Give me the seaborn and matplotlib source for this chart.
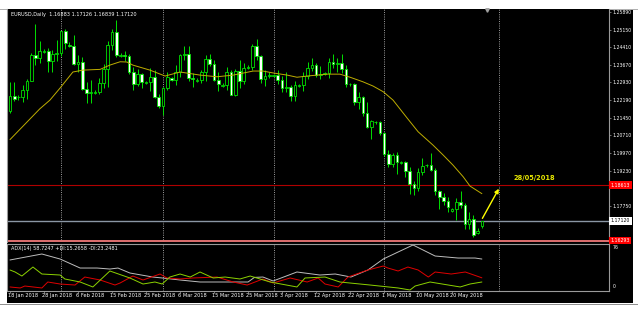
import numpy as np
import pandas as pd
import matplotlib
matplotlib.use("Agg")
import matplotlib.pyplot as plt
from matplotlib.patches import Rectangle
import seaborn as sns

sns.set_style("dark")
plt.rcParams['font.family'] = ['DejaVu Sans']

# ---------------- DATA ----------------
# bar index 0 = 18 Jan 2018 (broker with Sunday bars), last = 28 May 2018
opens = [1.2175, 1.2236, 1.2230, 1.2232, 1.2262, 1.2300, 1.2408, 1.2397, 1.2422, 1.2425,
         1.2383, 1.2412, 1.2416, 1.2509, 1.2452, 1.2446, 1.2369, 1.2381, 1.2265, 1.2250,
         1.2248, 1.2252, 1.2290, 1.2350, 1.2451, 1.2506, 1.2405, 1.2410, 1.2406, 1.2338,
         1.2285, 1.2329, 1.2290, 1.2294, 1.2318, 1.2233, 1.2193, 1.2268, 1.2310, 1.2302,
         1.2336, 1.2409, 1.2411, 1.2312, 1.2300, 1.2305, 1.2335, 1.2390, 1.2370, 1.2304,
         1.2280, 1.2284, 1.2336, 1.2240, 1.2343, 1.2301, 1.2355, 1.2360, 1.2447, 1.2403,
         1.2308, 1.2322, 1.2320, 1.2325, 1.2302, 1.2269, 1.2276, 1.2238, 1.2278, 1.2281,
         1.2320, 1.2353, 1.2367, 1.2325, 1.2328, 1.2332, 1.2381, 1.2372, 1.2374, 1.2349,
         1.2285, 1.2286, 1.2212, 1.2234, 1.2164, 1.2105, 1.2125, 1.2128, 1.2079, 1.1992,
         1.1949, 1.1989, 1.1955, 1.1958, 1.1922, 1.1867, 1.1850, 1.1917, 1.1945, 1.1948,
         1.1925, 1.1837, 1.1810, 1.1795, 1.1755, 1.1760, 1.1789, 1.1780, 1.1698, 1.1720,
         1.1660, 1.16883]
highs = [1.2296, 1.2297, 1.2240, 1.2283, 1.2307, 1.2415, 1.2537, 1.2466, 1.2432, 1.2438,
         1.2430, 1.2470, 1.2510, 1.2518, 1.2462, 1.2492, 1.2410, 1.2398, 1.2294, 1.2302,
         1.2260, 1.2312, 1.2371, 1.2469, 1.2519, 1.2555, 1.2416, 1.2426, 1.2412, 1.2358,
         1.2350, 1.2334, 1.2300, 1.2355, 1.2345, 1.2243, 1.2273, 1.2336, 1.2318, 1.2365,
         1.2414, 1.2446, 1.2445, 1.2334, 1.2310, 1.2347, 1.2409, 1.2413, 1.2387, 1.2336,
         1.2290, 1.2357, 1.2345, 1.2350, 1.2388, 1.2374, 1.2365, 1.2456, 1.2476, 1.2408,
         1.2345, 1.2336, 1.2330, 1.2345, 1.2322, 1.2339, 1.2283, 1.2298, 1.2286, 1.2337,
         1.2380, 1.2396, 1.2374, 1.2363, 1.2335, 1.2396, 1.2414, 1.2396, 1.2414, 1.2366,
         1.2292, 1.2290, 1.2254, 1.2238, 1.2209, 1.2135, 1.2132, 1.2133, 1.2083, 1.2009,
         1.1996, 1.1999, 1.1965, 1.1963, 1.1940, 1.1881, 1.1933, 1.1974, 1.1952, 1.1997,
         1.1932, 1.1843, 1.1830, 1.1812, 1.1765, 1.1806, 1.1836, 1.1785, 1.1748, 1.1738,
         1.1680, 1.17126]
lows = [1.2166, 1.2215, 1.2220, 1.2212, 1.2225, 1.2298, 1.2367, 1.2373, 1.2415, 1.2336,
        1.2337, 1.2384, 1.2406, 1.2435, 1.2440, 1.2365, 1.2336, 1.2262, 1.2207, 1.2206,
        1.2244, 1.2244, 1.2270, 1.2273, 1.2430, 1.2400, 1.2400, 1.2383, 1.2329, 1.2260,
        1.2278, 1.2268, 1.2285, 1.2258, 1.2226, 1.2187, 1.2155, 1.2262, 1.2298, 1.2282,
        1.2318, 1.2387, 1.2301, 1.2272, 1.2295, 1.2290, 1.2299, 1.2363, 1.2300, 1.2258,
        1.2275, 1.2260, 1.2240, 1.2238, 1.2269, 1.2286, 1.2350, 1.2347, 1.2386, 1.2292,
        1.2280, 1.2312, 1.2315, 1.2288, 1.2254, 1.2251, 1.2214, 1.2215, 1.2274, 1.2259,
        1.2307, 1.2340, 1.2314, 1.2306, 1.2325, 1.2310, 1.2354, 1.2338, 1.2332, 1.2273,
        1.2280, 1.2197, 1.2182, 1.2154, 1.2103, 1.2055, 1.2120, 1.2072, 1.1985, 1.1937,
        1.1939, 1.1910, 1.1950, 1.1896, 1.1823, 1.1820, 1.1838, 1.1904, 1.1940, 1.1922,
        1.1820, 1.1762, 1.1780, 1.1750, 1.1750, 1.1717, 1.1767, 1.1676, 1.1678, 1.1645,
        1.1655, 1.16839]
closes = [1.2236, 1.2222, 1.2232, 1.2262, 1.2300, 1.2408, 1.2397, 1.2427, 1.2425, 1.2383,
          1.2412, 1.2416, 1.2509, 1.2459, 1.2446, 1.2369, 1.2381, 1.2265, 1.2250, 1.2253,
          1.2252, 1.2290, 1.2350, 1.2451, 1.2506, 1.2407, 1.2410, 1.2406, 1.2338, 1.2285,
          1.2329, 1.2295, 1.2294, 1.2318, 1.2233, 1.2193, 1.2268, 1.2317, 1.2302, 1.2336,
          1.2409, 1.2411, 1.2312, 1.2306, 1.2305, 1.2335, 1.2390, 1.2370, 1.2304, 1.2286,
          1.2284, 1.2336, 1.2240, 1.2343, 1.2301, 1.2352, 1.2360, 1.2447, 1.2403, 1.2308,
          1.2322, 1.2322, 1.2325, 1.2302, 1.2269, 1.2276, 1.2238, 1.2282, 1.2281, 1.2320,
          1.2353, 1.2367, 1.2325, 1.2330, 1.2332, 1.2381, 1.2372, 1.2374, 1.2349, 1.2288,
          1.2286, 1.2212, 1.2234, 1.2164, 1.2105, 1.2132, 1.2128, 1.2079, 1.1992, 1.1949,
          1.1989, 1.1960, 1.1958, 1.1922, 1.1867, 1.1850, 1.1917, 1.1942, 1.1948, 1.1925,
          1.1837, 1.1810, 1.1795, 1.1768, 1.1760, 1.1789, 1.1780, 1.1698, 1.1720, 1.1651,
          1.1668, 1.17120]

# moving average (read at bar positions)
ma_idx = [0, 7, 9.4, 11.8, 14.8, 17.2, 21.2, 23.5, 25.9, 27.5, 28.9, 32.9, 36.5, 40, 44.7,
          48.7, 52.5, 57.2, 59.5, 61.9, 65.2, 67.5, 69.9, 74.6, 77.6, 80, 83, 85.4, 87.8,
          90.1, 93.4, 96, 99.5, 101.9, 104.2, 106.6, 108.2, 111]
ma_val = [1.2053, 1.2182, 1.2219, 1.2270, 1.2337, 1.2345, 1.2348, 1.2366, 1.2380, 1.2379,
          1.2366, 1.2345, 1.2320, 1.2337, 1.2324, 1.2317, 1.2324, 1.2341, 1.2341, 1.2333,
          1.2324, 1.2315, 1.2320, 1.2328, 1.2328, 1.2315, 1.2296, 1.2278, 1.2254, 1.2219,
          1.2144, 1.2086, 1.2030, 1.1988, 1.1946, 1.1897, 1.1858, 1.1826]

# ADX(14) panel
adx_idx = [0, 7.5, 11.8, 16.5, 20.5, 23.5, 25.4, 28.2, 33.6, 35.8, 40, 44.7, 52.5, 56,
           57.5, 59.5, 61.9, 67.5, 72.9, 76.5, 80.2, 84.2, 87.8, 91.3, 94.8, 100, 105.4,
           109.4, 111]
adx_val = [56.9, 68.2, 58.7, 41.7, 41.7, 39.8, 41.7, 32.3, 24.7, 22.9, 19.1, 15.3, 15.3,
           15.3, 24.0, 24.7, 17.2, 34.2, 28.5, 30.4, 24.7, 38.0, 58.7, 72.0, 85.2, 64.4,
           60.6, 60.6, 58.7]
mdi_idx = [0, 2.4, 3.5, 7.5, 8.9, 11.8, 15.3, 17.6, 21.2, 24.7, 25.9, 28.9, 31.3, 35.3,
           36.9, 40, 43, 48.7, 52.5, 55.8, 59.5, 61.9, 65.9, 69.9, 72.5, 74.1, 77.2, 79.5,
           84.2, 87.8, 88.9, 91.3, 93.6, 96, 98.4, 100, 103.8, 107.1, 111]
mdi_val = [5.9, 4.0, 7.7, 4.0, 15.3, 11.5, 9.6, 24.7, 19.1, 9.6, 13.4, 26.6, 19.1, 30.4,
           22.9, 21.0, 22.9, 24.7, 15.3, 9.6, 21.0, 13.4, 22.9, 15.3, 22.9, 11.5, 5.9, 24.7,
           38.0, 45.5, 41.7, 36.1, 43.6, 38.0, 24.7, 34.2, 30.4, 34.2, 23.2]
pdi_idx = [0, 1.2, 2.8, 5.4, 7.5, 11.8, 12.9, 16.5, 19.5, 23.5, 28.2, 31.3, 34.1, 35.8,
           37.6, 40, 42.4, 44.7, 47.8, 50.6, 54.1, 56.5, 61.2, 67.5, 69.4, 74.1, 77.6, 84.7,
           91.3, 94.1, 95.3, 98.8, 105.9, 108.2, 111]
pdi_val = [38.0, 34.2, 26.6, 43.6, 30.4, 28.5, 21.0, 15.3, 5.9, 36.1, 22.9, 11.5, 15.3,
           11.5, 24.7, 30.4, 24.7, 34.2, 22.9, 24.7, 21.0, 26.6, 15.3, 5.9, 22.9, 24.7, 15.3,
           9.6, 4.0, 0.2, 7.7, 15.3, 5.9, 11.5, 15.3]

date_labels = ['18 Jan 2018', '28 Jan 2018', '6 Feb 2018', '15 Feb 2018', '25 Feb 2018',
               '6 Mar 2018', '15 Mar 2018', '25 Mar 2018', '3 Apr 2018', '12 Apr 2018',
               '22 Apr 2018', '1 May 2018', '10 May 2018', '20 May 2018']
date_pos = [0, 8, 16, 24, 32, 40, 48, 56, 64, 72, 80, 88, 96, 104]
month_starts = [12, 36, 62, 88, 115]
price_ticks = [1.25890, 1.25150, 1.24410, 1.23670, 1.22930, 1.22190, 1.21450, 1.20710,
               1.19970, 1.19230, 1.18490, 1.17750, 1.17010]
hidden_ticks = [1.18490, 1.17010]   # labels covered by the price boxes
red_level = 1.18613
bid_level = 1.17120
low_level = 1.16293
title_txt = "EURUSD,Daily  1.16883 1.17126 1.16839 1.17120"
adx_txt = "ADX(14) 58.7247 +DI:15.2658 -DI:23.2481"
note_txt = "28/05/2018"

# ---------------- FIGURE ----------------
W, H = 638, 312
fig = plt.figure(figsize=(W / 100, H / 100), dpi=100, facecolor='white')
fig.patches.append(Rectangle((7 / W, 1 - 303 / H), (633 - 7) / W, (303 - 9) / H,
                             transform=fig.transFigure, facecolor='black',
                             edgecolor='none', zorder=-10))
fig.patches.append(Rectangle((0, 1 - 9.5 / H), 1, 0.8 / H, transform=fig.transFigure,
                             facecolor='#B0B0B0', edgecolor='none', zorder=-9))
fig.patches.append(Rectangle((0, 1 - 304.5 / H), 1, 0.8 / H, transform=fig.transFigure,
                             facecolor='#909090', edgecolor='none', zorder=-9))

ax1 = fig.add_axes([7 / W, 1 - 242 / H, (609 - 7) / W, (242 - 9) / H], facecolor='black')
ax2 = fig.add_axes([7 / W, 1 - 291 / H, (609 - 7) / W, (291 - 244) / H], facecolor='black')
ax1.set_zorder(5)
ax2.set_zorder(5)

LIME = '#00E000'
idx = np.arange(len(opens))
o = np.array(opens); h = np.array(highs); l = np.array(lows); c = np.array(closes)
bull = c >= o

ax1.vlines(idx, l, h, color=LIME, lw=0.7, zorder=3)
body_h = np.maximum(np.abs(c - o), 0.00012)
body_b = np.minimum(o, c)
ax1.bar(idx[bull], body_h[bull], bottom=body_b[bull], width=0.62, color='black',
        edgecolor=LIME, linewidth=0.6, zorder=4)
ax1.bar(idx[~bull], body_h[~bull], bottom=body_b[~bull], width=0.62, color='white',
        edgecolor=LIME, linewidth=0.6, zorder=4)

sns.lineplot(x=ma_idx, y=ma_val, ax=ax1, color='#BFAE00', lw=0.7, zorder=5)

ax1.axhline(red_level, color='#B00000', lw=0.8, zorder=2)
ax1.axhline(bid_level, color='#8A96A4', lw=1.0, zorder=2)
ax1.axhline(low_level, color='#E07070', lw=1.4, zorder=2)

for m in month_starts:
    for ax in (ax1, ax2):
        ax.axvline(m, color='#B0B0B0', lw=0.6, ls=(0, (1.2, 1.5)), zorder=1)

XL = (-0.7, 140.9)
ax1.set_xlim(*XL)
ax1.set_ylim(1.16230, 1.26016)
ax1.set_xticks([])
ax1.yaxis.tick_right()
ax1.set_yticks(price_ticks)
ax1.set_yticklabels(["" if v in hidden_ticks else f"{v:.5f}" for v in price_ticks])
ax1.tick_params(axis='y', colors='#A0A0A0', labelcolor='white', labelsize=3.3,
                length=1.5, width=0.5, pad=0.8)
ax1.set_ylabel('')
for s in ['left', 'right']:
    ax1.spines[s].set_color('#9A9A9A'); ax1.spines[s].set_linewidth(0.8)
ax1.spines['top'].set_visible(False)
ax1.spines['bottom'].set_visible(False)
ax1.grid(False)

def price_box(y, txt, fc, tc):
    ax1.text(1.003, y, txt, transform=ax1.get_yaxis_transform(), fontsize=3.3,
             color=tc, va='center', ha='left', zorder=10, clip_on=False,
             bbox=dict(boxstyle='square,pad=0.3', fc=fc, ec='none'))

price_box(red_level, f"{red_level:.5f}", '#FF0000', 'white')
price_box(bid_level, f"{bid_level:.5f}", 'white', 'black')
price_box(low_level, f"{low_level:.5f}", '#FF0000', 'white')

ax1.text(0.007, 0.985, title_txt, transform=ax1.transAxes, fontsize=3.6, color='white',
         va='top', ha='left')

ax1.annotate('', xy=(115.3, 1.1857), xytext=(110.8, 1.1712),
             arrowprops=dict(arrowstyle='-|>', color='#FFFF00', lw=1.0, mutation_scale=6),
             zorder=8)
ax1.text(118.4, 1.1890, note_txt, fontsize=4.8, color='#E6E600', fontweight='bold',
         ha='left', va='center', zorder=8)
ax1.plot([112.2], [1.2598], marker='v', color='#A0A0A0', ms=2.5, clip_on=False, zorder=9)

# ADX panel
sns.lineplot(x=adx_idx, y=adx_val, ax=ax2, color='#BEBEBE', lw=0.7)
sns.lineplot(x=mdi_idx, y=mdi_val, ax=ax2, color='#E00000', lw=0.7)
sns.lineplot(x=pdi_idx, y=pdi_val, ax=ax2, color='#8CD200', lw=0.7)
ax2.set_xlim(*XL)
ax2.set_ylim(-1.7, 87.1)
ax2.set_yticks([])
ax2.set_xticks([])
ax2.set_ylabel('')
for s in ax2.spines.values():
    s.set_color('#9A9A9A'); s.set_linewidth(0.8); s.set_visible(True)
ax2.grid(False)
ax2.text(0.007, 0.96, adx_txt, transform=ax2.transAxes, fontsize=3.6, color='white',
         va='top', ha='left')
ax2.text(1.006, 0.93, '76', transform=ax2.transAxes, fontsize=3.3, color='white',
         va='center', ha='left', clip_on=False)
ax2.text(1.006, 0.09, '0', transform=ax2.transAxes, fontsize=3.3, color='white',
         va='center', ha='left', clip_on=False)

for p, lab in zip(date_pos, date_labels):
    ax2.text(p - 0.5, -0.045, lab, transform=ax2.get_xaxis_transform(), fontsize=3.6,
             color='white', ha='left', va='top', clip_on=False)
    ax2.plot([p, p], [-1.7, -5.5], color='#A0A0A0', lw=0.5, clip_on=False)

fig.savefig('out.png', dpi=100, facecolor='white')
